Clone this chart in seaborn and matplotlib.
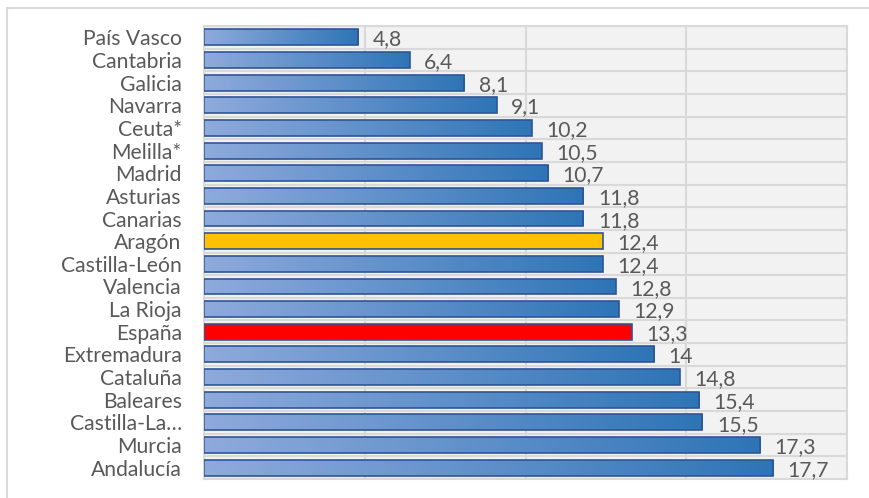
import numpy as np
import pandas as pd
import matplotlib
matplotlib.use("Agg")
import matplotlib.pyplot as plt
from matplotlib.lines import Line2D
import seaborn as sns

# data
regions = ["País Vasco", "Cantabria", "Galicia", "Navarra", "Ceuta*", "Melilla*",
           "Madrid", "Asturias", "Canarias", "Aragón", "Castilla-León", "Valencia",
           "La Rioja", "España", "Extremadura", "Cataluña", "Baleares",
           "Castilla-La…", "Murcia", "Andalucía"]
values = [4.8, 6.4, 8.1, 9.1, 10.2, 10.5, 10.7, 11.8, 11.8, 12.4, 12.4, 12.8,
          12.9, 13.3, 14, 14.8, 15.4, 15.5, 17.3, 17.7]
highlight = {"Aragón": "#FFC000", "España": "#FF0000"}

df = pd.DataFrame({"region": regions, "value": values})

sns.set_style("white")
plt.rcParams["font.family"] = ["Lato", "DejaVu Sans"]
text_color = "#595959"
grid_color = "#D9D9D9"
edge_color = "#2F5597"
fsize = 15.2

fig = plt.figure(figsize=(8.7, 4.98), dpi=100)
ax = fig.add_axes([204 / 870, 1 - 479 / 498, 643 / 870, 453 / 498])
ax.set_facecolor("#F2F2F2")

sns.barplot(data=df, x="value", y="region", orient="h", color="#4F81BD",
            width=0.7, ax=ax, zorder=3)

# blue gradient for every bar, solid colour for the highlighted ones
grad = np.linspace(0, 1, 256).reshape(1, -1)
cmap = matplotlib.colors.LinearSegmentedColormap.from_list(
    "bluegrad", ["#8FAADC", "#2E75B6"])
for patch, name in zip(ax.patches, regions):
    patch.set_edgecolor(edge_color)
    patch.set_linewidth(1.2)
    if name in highlight:
        patch.set_facecolor(highlight[name])
        continue
    x0, y0 = patch.get_x(), patch.get_y()
    w, h = patch.get_width(), patch.get_height()
    patch.set_facecolor("none")
    im = ax.imshow(grad, cmap=cmap, aspect="auto", extent=[x0, x0 + w, y0 + h, y0],
                   zorder=2.5, interpolation="bicubic")
    im.set_clip_path(patch)

for i, v in enumerate(values):
    lab = f"{v:g}".replace(".", ",")
    ax.text(v + 0.45, i + 0.1, lab, va="center", ha="left", fontsize=fsize,
            color=text_color, zorder=4)

ax.set_xlim(0, 20)
ax.set_ylim(len(regions) - 0.5, -0.5)
ax.set_xticks([0, 5, 10, 15, 20])
ax.set_xticklabels([])
ax.set_yticks(range(len(regions)))
ax.set_yticks(np.arange(-0.5, len(regions), 1), minor=True)
ax.tick_params(axis="y", which="both", length=0, labelsize=fsize,
               labelcolor=text_color, pad=16)
ax.tick_params(axis="x", length=0)
ax.set_xlabel("")
ax.set_ylabel("")
ax.grid(axis="x", which="major", color=grid_color, lw=1.5, zorder=0)
ax.grid(axis="y", which="minor", color=grid_color, lw=1.5, zorder=0)
for s in ax.spines.values():
    s.set_color(grid_color)
    s.set_linewidth(1.5)

# outer chart frame (cut off at right and bottom in the reference)
fig.add_artist(Line2D([7 / 870, 1], [1 - 8 / 498, 1 - 8 / 498], color=grid_color,
                      lw=1.5, transform=fig.transFigure))
fig.add_artist(Line2D([7 / 870, 7 / 870], [0, 1 - 8 / 498], color=grid_color,
                      lw=1.5, transform=fig.transFigure))

fig.savefig("out.png", dpi=100)
